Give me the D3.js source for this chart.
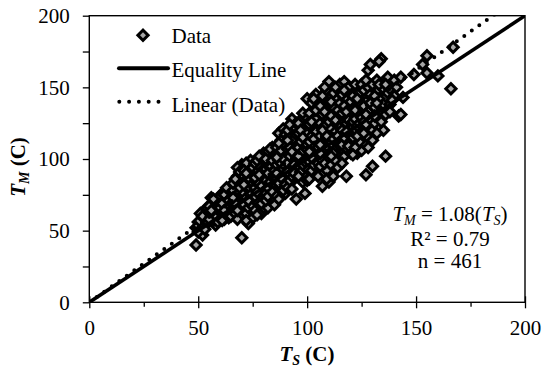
<!DOCTYPE html>
<html>
<head>
<meta charset="utf-8">
<script src="https://cdn.jsdelivr.net/npm/d3@7"></script>
<style>
  html, body { margin: 0; padding: 0; background: #fff; }
  svg { display: block; font-family: "Liberation Serif", "Times New Roman", serif; }
  svg text { font-family: "Liberation Serif", "Times New Roman", serif; }
</style>
</head>
<body>
<svg id="chart" width="542" height="371"></svg>
<script>
// Measured vs. simulated temperatures, [T_S, T_M] in °C
const points = [
  [49,40],[52,47],[50,56],[51,62],[53,58],[49,52],[54,55],[52,60],[55,63],[50,49],[54,66],[53,51],
  [56,73],[57,68],[58,54],[56,60],[59,65],[57,57],[58,70],[55,67],[59,61],[60,74],[56,64],[58,59],[57,72],[59,56],[60,68],[55,58],
  [61,63],[62,58],[63,72],[64,67],[61,76],[62,70],[63,61],[64,78],[65,64],[60,66],[62,75],[63,68],[64,59],[65,73],[61,69],[62,64],[63,80],[64,71],[65,60],[61,57],
  [66,70],[67,75],[68,88],[69,60],[70,96],[66,65],[67,81],[68,72],[69,85],[70,45],[66,78],[67,62],[68,94],[69,77],[70,66],[66,83],[67,69],[68,58],[69,91],[70,74],[66,73],[67,86],[68,64],[69,80],
  [71,68],[72,84],[73,55],[74,99],[75,78],[71,88],[72,62],[73,93],[74,70],[75,85],[71,76],[72,97],[73,66],[74,81],[75,59],[71,92],[72,73],[73,79],[74,89],[75,67],[71,82],[72,57],[73,87],[74,75],[75,94],[72,90],[73,71],
  [76,80],[77,91],[78,68],[79,100],[80,75],[76,64],[77,86],[78,95],[79,72],[80,88],[76,97],[77,70],[78,83],[79,62],[80,104],[76,74],[77,99],[78,78],[79,90],[80,66],[76,87],[77,61],[78,102],[79,81],[80,93],[77,77],[78,89],[79,69],
  [81,85],[82,98],[83,72],[84,108],[85,78],[81,93],[82,66],[83,101],[84,82],[85,95],[81,76],[82,105],[83,88],[84,70],[85,103],[81,100],[82,80],[83,94],[84,91],[85,68],[81,71],[82,90],[83,84],[84,99],[85,86],[82,74],[83,107],[84,77],[85,92],
  [86,96],[87,118],[88,80],[89,110],[90,88],[86,74],[87,104],[88,92],[89,121],[90,76],[86,86],[87,99],[88,113],[89,84],[90,102],[86,108],[87,72],[88,97],[89,93],[90,117],[86,90],[87,83],[88,106],[89,78],[90,95],[87,111],[88,87],[89,100],[90,82],[86,101],
  [91,107],[92,94],[93,128],[94,86],[95,112],[91,80],[92,116],[93,99],[94,122],[95,72],[91,97],[92,85],[93,110],[94,103],[95,92],[91,120],[92,102],[93,88],[94,114],[95,125],[91,91],[92,108],[93,79],[94,96],[95,104],[92,124],[93,105],[94,90],[95,117],[91,113],
  [96,118],[97,99],[98,110],[99,88],[100,142],[96,95],[97,127],[98,84],[99,106],[100,101],[96,108],[97,91],[98,121],[99,115],[100,85],[96,125],[97,112],[98,102],[99,130],[100,93],[96,88],[97,104],[98,96],[99,76],[100,119],[97,120],[98,115],[99,98],[100,110],[96,102],[98,132],
  [101,124],[102,106],[103,131],[104,94],[105,117],[101,98],[102,139],[103,110],[104,128],[105,88],[101,112],[102,92],[103,120],[104,104],[105,136],[101,132],[102,116],[103,100],[104,145],[105,108],[101,86],[102,126],[103,96],[104,113],[105,122],[102,101],[103,142],[104,119],[105,97],[101,105],[103,114],[104,134],
  [106,125],[107,112],[108,140],[109,102],[110,154],[106,95],[107,131],[108,118],[109,148],[110,84],[106,116],[107,81],[108,107],[109,127],[110,113],[106,137],[107,99],[108,123],[109,92],[110,139],[106,104],[107,144],[108,97],[109,116],[110,101],[107,120],[108,133],[109,109],[110,126],[106,110],[108,150],[109,86],
  [111,121],[112,136],[113,108],[114,148],[115,117],[111,96],[112,128],[113,142],[114,103],[115,131],[111,140],[112,88],[113,119],[114,125],[115,152],[111,111],[112,146],[113,99],[114,134],[115,109],[111,130],[112,114],[113,127],[114,94],[115,122],[112,104],[113,150],[114,116],[115,139],[111,102],
  [116,145],[117,126],[118,88],[119,138],[120,113],[116,120],[117,154],[118,107],[119,130],[120,147],[116,132],[117,102],[118,141],[119,118],[120,124],[116,110],[117,137],[118,125],[119,150],[120,104],[116,97],[117,115],[118,133],[119,109],[120,140],[117,148],[118,119],[119,127],
  [121,135],[122,119],[123,148],[124,112],[125,140],[121,126],[122,152],[123,104],[124,131],[125,118],[121,144],[122,128],[123,137],[124,146],[125,106],[121,115],[122,108],[123,123],[124,139],[125,152],[122,134],[123,116],[124,125],[125,129],[121,103],[123,142],
  [126,148],[127,89],[128,162],[129,134],[130,120],[126,126],[127,140],[128,115],[129,166],[130,143],[126,137],[127,124],[128,150],[129,128],[130,113],[126,118],[127,155],[128,133],[129,145],[130,95],[127,131],[128,108],[129,139],[130,152],
  [131,136],[132,147],[133,128],[134,170],[135,120],[131,125],[132,155],[133,142],[134,133],[135,149],[131,144],[132,118],[133,168],[134,126],[135,138],[132,139],[133,152],[131,130],
  [136,102],[137,146],[138,138],[139,153],[140,144],[136,131],[137,157],[138,149],[139,141],[140,155],[136,152],[138,133],
  [142,130],[143,131],[144,143],[141,150],[143,157],[149,159],[153,166],[155,172],[155,160],[160,158],[166,149],[167,178]
];

const axisDomain = [0, 200];
const majorTicks = [0, 50, 100, 150, 200];
const minorTicks = [25, 75, 125, 175];
const fitSlope = 1.08;
const rSquared = 0.79;
const legendLabels = ["Data", "Equality Line", "Linear (Data)"];

const fontSize = 21;
const subSize = 14;
const subShift = 4;

const svg = d3.select("#chart");
const plotLeft = 89.3, plotRight = 525, plotTop = 15.7, plotBottom = 302.3;

const x = d3.scaleLinear().domain(axisDomain).range([plotLeft, plotRight]);
const y = d3.scaleLinear().domain(axisDomain).range([plotBottom, plotTop]);

svg.append("defs").append("clipPath").attr("id", "plot-clip")
  .append("rect").attr("x", plotLeft).attr("y", plotTop)
  .attr("width", plotRight - plotLeft).attr("height", plotBottom - plotTop);

// x axis: major ticks cross the axis line, minor ticks hang below
const xMajor = svg.append("g").attr("transform", `translate(0,${plotBottom})`)
  .call(d3.axisBottom(x).tickValues(majorTicks).tickSize(6).tickPadding(11.5).tickFormat(d3.format("d")));
xMajor.selectAll(".tick line").attr("y1", -6);
svg.append("g").attr("transform", `translate(0,${plotBottom})`)
  .call(d3.axisBottom(x).tickValues(minorTicks).tickSize(4.5).tickFormat(""));

// y axis
svg.append("g").attr("transform", `translate(${plotLeft},0)`)
  .call(d3.axisLeft(y).tickValues(majorTicks).tickSize(6.5).tickPadding(13).tickFormat(d3.format("d")));
svg.append("g").attr("transform", `translate(${plotLeft},0)`)
  .call(d3.axisLeft(y).tickValues(minorTicks).tickSize(6.5).tickFormat(""));

svg.selectAll(".domain").remove();
svg.selectAll(".tick line").attr("stroke", "#000").attr("stroke-width", 1.3);
svg.selectAll(".tick text").attr("font-size", fontSize).attr("fill", "#000");

// plot frame
svg.append("rect").attr("x", plotLeft).attr("y", plotTop)
  .attr("width", plotRight - plotLeft).attr("height", plotBottom - plotTop)
  .attr("fill", "none").attr("stroke", "#000").attr("stroke-width", 1.4);

// data markers
const diamond = d3.symbol().type(d3.symbolSquare).size(52);
svg.append("g").selectAll("path").data(points).join("path")
  .attr("d", diamond)
  .attr("transform", d => `translate(${x(d[0])},${y(d[1])}) rotate(45)`)
  .attr("fill", "#a6a6a6").attr("stroke", "#000").attr("stroke-width", 3);

// equality and fitted lines
const lines = svg.append("g").attr("clip-path", "url(#plot-clip)");
const line = d3.line().x(d => x(d[0])).y(d => y(d[1]));
lines.append("path").attr("d", line([[0, 0], [200, 200]]))
  .attr("stroke", "#000").attr("stroke-width", 3.6).attr("fill", "none");
lines.append("path").attr("d", line([[0, 0], [200, 200 * fitSlope]]))
  .attr("stroke", "#000").attr("stroke-width", 4).attr("fill", "none")
  .attr("stroke-linecap", "round").attr("stroke-dasharray", "0 9.2");

// legend
const legend = svg.append("g").attr("font-size", fontSize);
legend.append("path").attr("d", diamond)
  .attr("transform", "translate(143,35.3) rotate(45)")
  .attr("fill", "#a6a6a6").attr("stroke", "#000").attr("stroke-width", 3);
legend.append("line").attr("x1", 119).attr("x2", 168).attr("y1", 68.3).attr("y2", 68.3)
  .attr("stroke", "#000").attr("stroke-width", 4).attr("stroke-linecap", "round");
legend.append("line").attr("x1", 119.3).attr("x2", 168.3).attr("y1", 101.7).attr("y2", 101.7)
  .attr("stroke", "#000").attr("stroke-width", 4).attr("stroke-linecap", "round")
  .attr("stroke-dasharray", "0 9.8");
[42.7, 77, 111.7].forEach((by, i) => {
  legend.append("text").attr("x", 171.5).attr("y", by).text(legendLabels[i]);
});

// axis titles
const xTitle = svg.append("text").attr("x", 307).attr("y", 361)
  .attr("text-anchor", "middle").attr("font-size", fontSize).attr("font-weight", "bold");
xTitle.append("tspan").attr("font-style", "italic").text("T");
xTitle.append("tspan").attr("font-style", "italic").attr("font-size", subSize).attr("dy", subShift).text("S");
xTitle.append("tspan").attr("dy", -subShift).text(" (C)");

const yTitle = svg.append("text")
  .attr("transform", "translate(25,167) rotate(-90)")
  .attr("text-anchor", "middle").attr("font-size", fontSize).attr("font-weight", "bold");
yTitle.append("tspan").attr("font-style", "italic").text("T");
yTitle.append("tspan").attr("font-style", "italic").attr("font-size", subSize).attr("dy", subShift).text("M");
yTitle.append("tspan").attr("dy", -subShift).text(" (C)");

// regression summary
const stats = svg.append("g").attr("font-size", fontSize).attr("text-anchor", "middle");
const eq = stats.append("text").attr("x", 450).attr("y", 221);
eq.append("tspan").attr("font-style", "italic").text("T");
eq.append("tspan").attr("font-style", "italic").attr("font-size", subSize).attr("dy", subShift).text("M");
eq.append("tspan").attr("dy", -subShift).text(` = ${fitSlope.toFixed(2)}(`);
eq.append("tspan").attr("font-style", "italic").text("T");
eq.append("tspan").attr("font-style", "italic").attr("font-size", subSize).attr("dy", subShift).text("S");
eq.append("tspan").attr("dy", -subShift).text(")");
stats.append("text").attr("x", 450).attr("y", 245.5).text(`R² = ${rSquared.toFixed(2)}`);
stats.append("text").attr("x", 450).attr("y", 268).text(`n = ${points.length}`);
</script>
</body>
</html>
